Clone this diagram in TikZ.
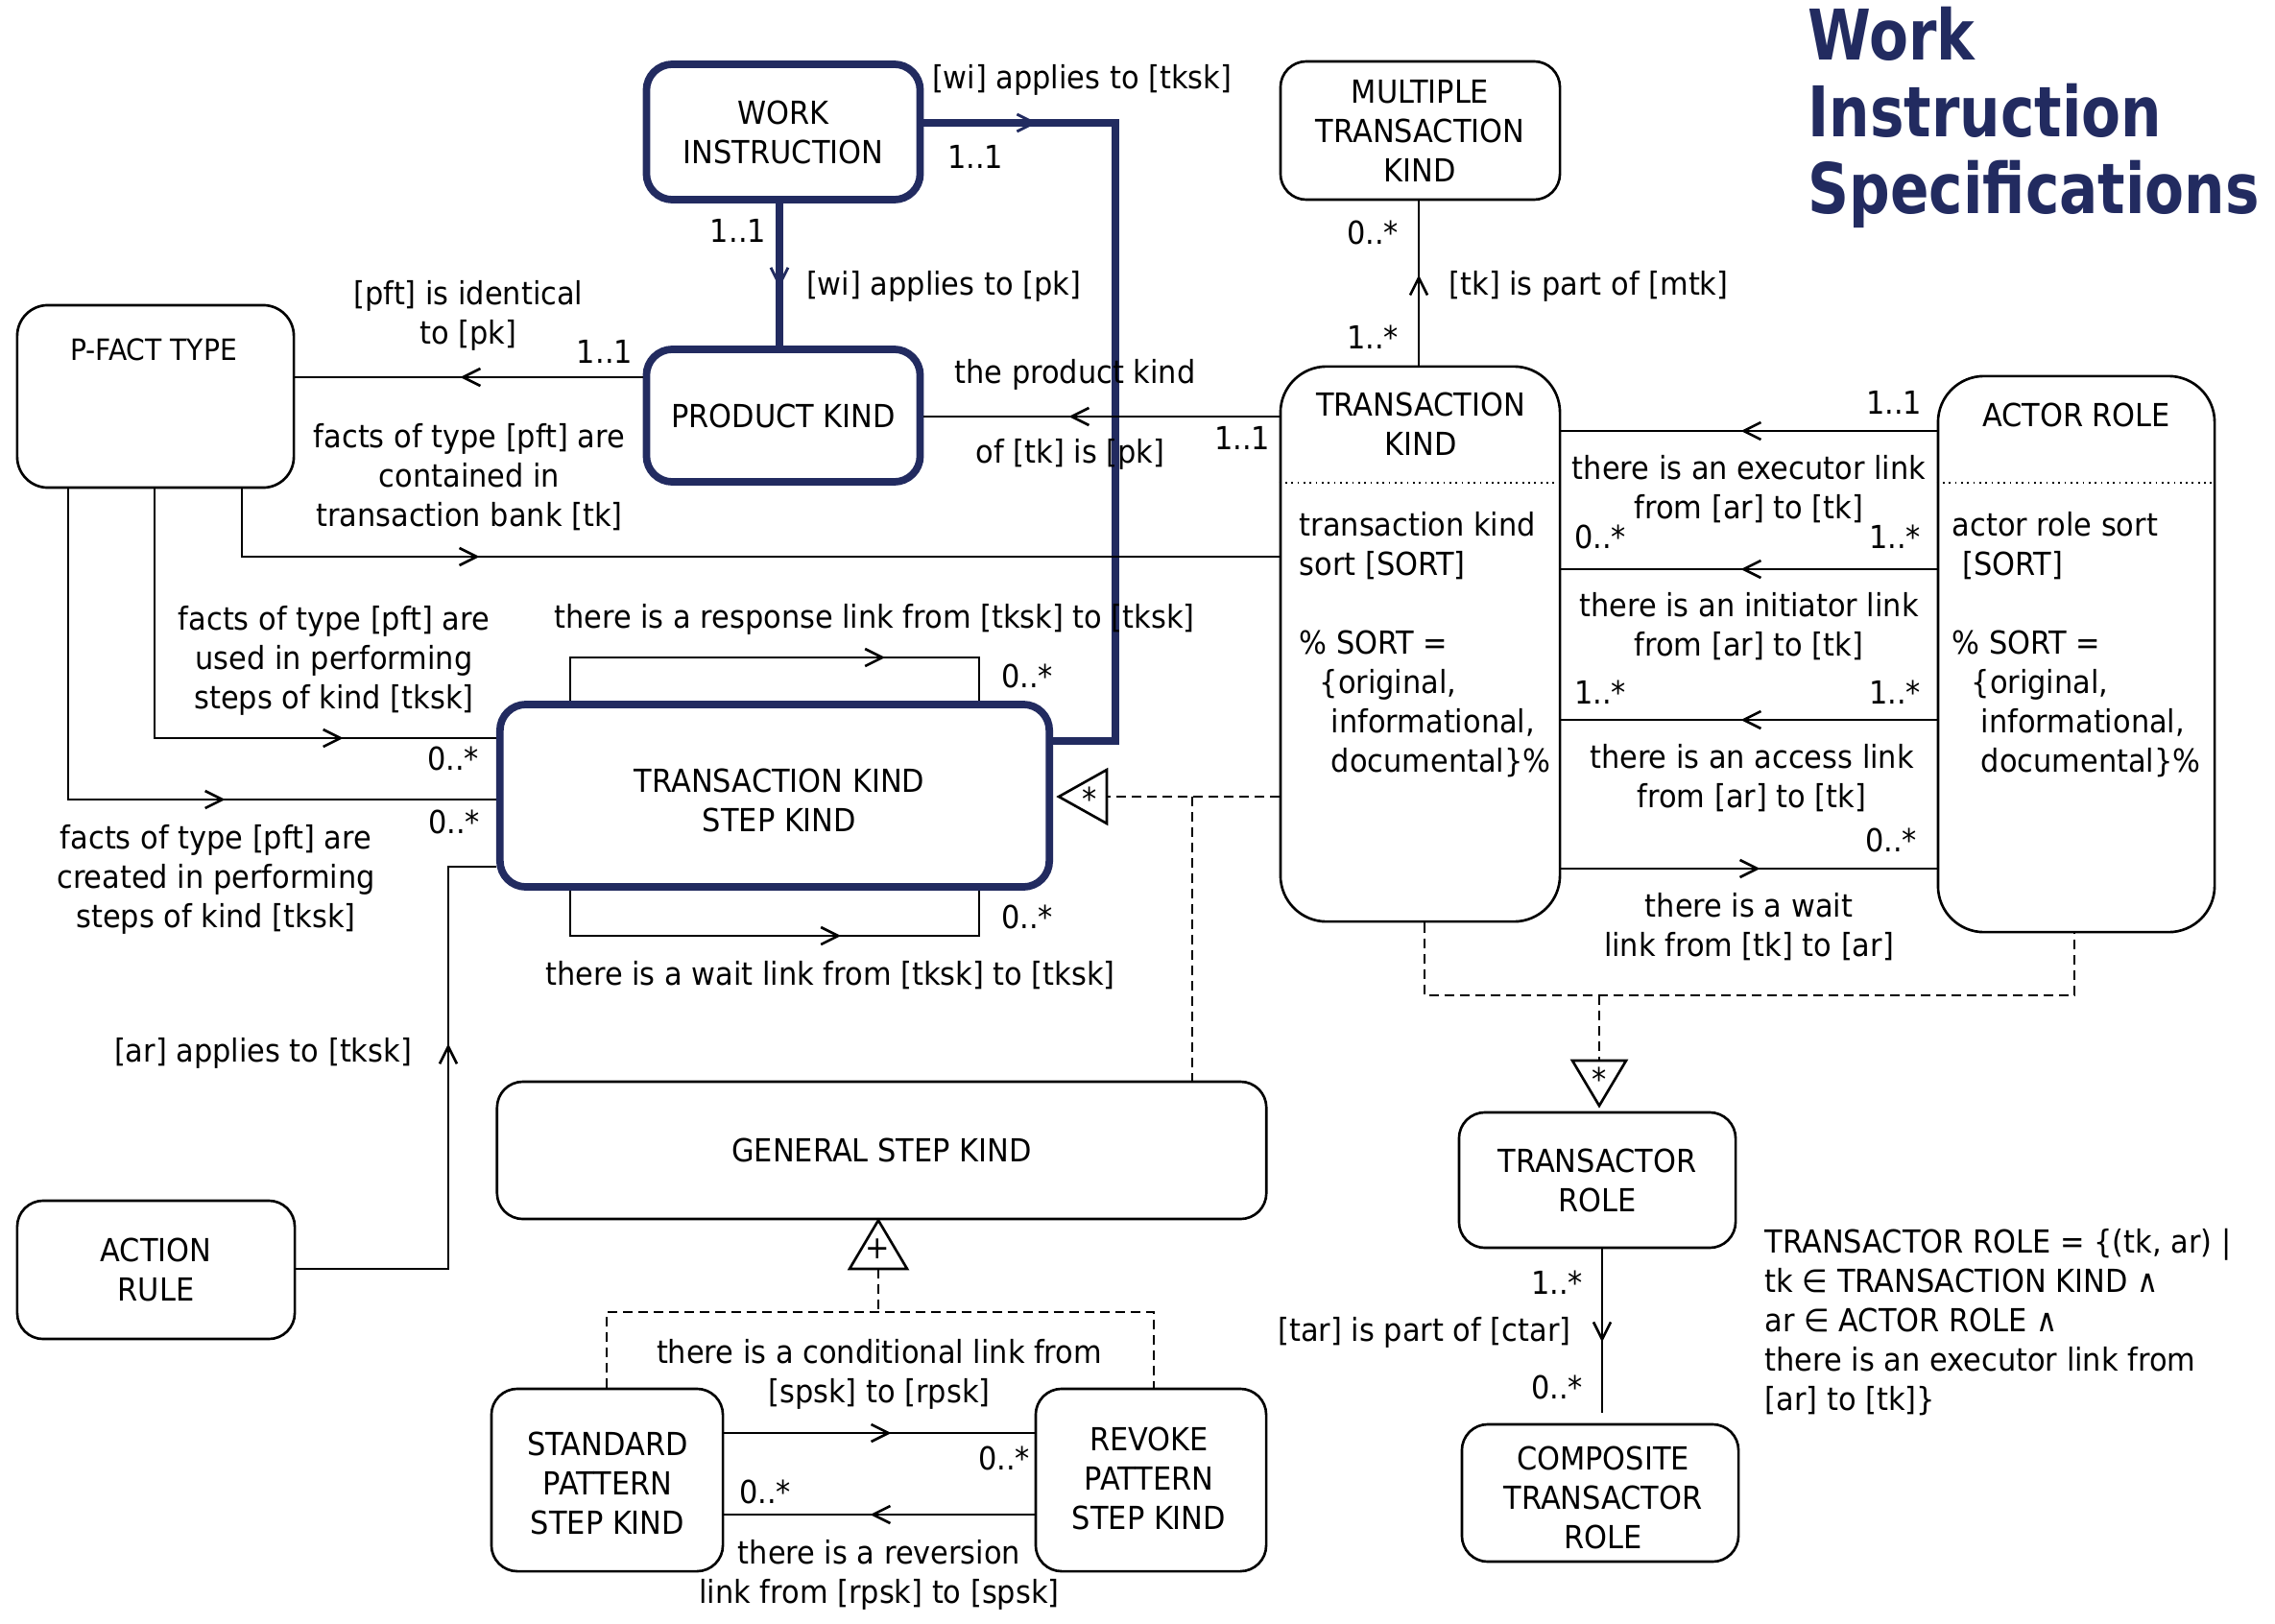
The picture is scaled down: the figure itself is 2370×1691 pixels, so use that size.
\documentclass[tikz,border=0pt]{standalone}
\usepackage{fontspec}
\setmainfont{DejaVu Sans}[FakeStretch=0.92]
\newfontfamily\titlefont{DejaVu Sans}[FakeStretch=0.82]
\usetikzlibrary{arrows.meta,decorations.markings,calc}
\definecolor{navy}{RGB}{34,43,96}
\begin{document}
\begin{tikzpicture}[x=0.01cm,y=-0.01cm,
  font=\fontsize{9.4pt}{11.66pt}\selectfont,
  line join=miter,
  box/.style={draw, line width=0.75pt, rounded corners=0.27cm, inner sep=0pt, align=center},
  tallbox/.style={box, rounded corners=0.48cm},
  navybox/.style={box, draw=navy, line width=2.2pt},
  lbl/.style={inner sep=0pt, align=center},
  conn/.style={line width=0.75pt},
  navyline/.style={draw=navy, line width=2.2pt},
  dsh/.style={line width=0.75pt, dash pattern=on 0.1cm off 0.06cm},
  dotsep/.style={line width=0.55pt, dash pattern=on 0.5pt off 1.3pt},
  midarr/.style={postaction={decorate, decoration={markings, mark=at position #1 with {\arrow{Straight Barb[length=1.8mm,width=1.8mm,line width=0.75pt]}}}}},
  navyarr/.style={postaction={decorate, decoration={markings, mark=at position #1 with {\arrow{Straight Barb[length=1.8mm,width=1.8mm,line width=0.8pt]}}}}},
  titlesty/.style={inner sep=0pt, text=navy, font=\titlefont\fontsize{20.7pt}{24pt}\selectfont\bfseries},
]
\fill[white] (0,0) rectangle (2370,1691);
\useasboundingbox (0,0) rectangle (2370,1691);

% ---- title
\node[titlesty, anchor=base west] (t1) at (1883,63) {Work};
\node[titlesty, anchor=base west] (t2) at (1883,143) {Instruction};
\node[titlesty, anchor=base west] (t3) at (1883,222) {Specifications};

% ---- boxes
\node[navybox, minimum width=2.85cm, minimum height=1.41cm] (wi) at (816,137.5) {WORK\\INSTRUCTION};
\node[navybox, minimum width=2.85cm, minimum height=1.38cm] (pk) at (816,433) {PRODUCT KIND};
\node[box, rounded corners=0.32cm, minimum width=2.88cm, minimum height=1.90cm] (pft) at (162,413) {};
\node[lbl, font=\fontsize{8.7pt}{10pt}\selectfont] (pftt) at (160,364) {P-FACT TYPE};
\node[box, minimum width=2.91cm, minimum height=1.44cm] (mtk) at (1479.5,136) {MULTIPLE\\TRANSACTION\\KIND};
\node[tallbox, minimum width=2.91cm, minimum height=5.78cm] (tk) at (1479.5,671) {};
\node[lbl] (tkt) at (1480,442) {TRANSACTION\\KIND};
\node[tallbox, minimum width=2.88cm, minimum height=5.79cm] (ar) at (2163,681.5) {};
\node[lbl] (art) at (2163,432) {ACTOR ROLE};
\node[navybox, minimum width=5.72cm, minimum height=1.90cm] (tksk) at (807,829) {};
\node[lbl] (tkskt) at (812,834) {TRANSACTION KIND\\STEP KIND};
\node[box, minimum width=8.01cm, minimum height=1.43cm] (gsk) at (918.5,1198.5) {GENERAL STEP KIND};
\node[box, minimum width=2.89cm, minimum height=1.44cm] (acr) at (162.5,1323) {ACTION\\RULE};
\node[box, minimum width=2.88cm, minimum height=1.41cm] (tr) at (1664,1229.5) {TRANSACTOR\\ROLE};
\node[box, minimum width=2.88cm, minimum height=1.43cm] (ctr) at (1667,1555.5) {};
\node[lbl] (ctrt) at (1670,1560) {COMPOSITE\\TRANSACTOR\\ROLE};
\node[box, minimum width=2.41cm, minimum height=1.90cm] (spsk) at (632.5,1542) {};
\node[lbl] (spskt) at (633,1545) {STANDARD\\PATTERN\\STEP KIND};
\node[box, minimum width=2.40cm, minimum height=1.90cm] (rpsk) at (1199,1542) {};
\node[lbl] (rpskt) at (1197,1540) {REVOKE\\PATTERN\\STEP KIND};

% ---- compartments
\draw[dotsep] (tk.west |- 0,503) -- (tk.east |- 0,503);
\draw[dotsep] (ar.west |- 0,503) -- (ar.east |- 0,503);
\node[lbl, align=left, anchor=west] (tkbody) at (1353,672) {transaction kind\\sort [SORT]\\[0.41cm]\% SORT =\\\hspace*{0.21cm}\{original,\\\hspace*{0.33cm}informational,\\\hspace*{0.33cm}documental\}\%};
\node[lbl, align=left, anchor=west] (arbody) at (2033,672) {actor role sort\\\hspace*{0.11cm}[SORT]\\[0.41cm]\% SORT =\\\hspace*{0.20cm}\{original,\\\hspace*{0.30cm}informational,\\\hspace*{0.30cm}documental\}\%};

% ---- navy connectors
\draw[navyline, navyarr=1.18cm] (wi.east |- 0,128) -- (1162,128) -- (1162,772) -- (tksk.east |- 0,772);
\draw[navyline, navyarr=0.88cm] (wi.south -| 812,0) -- (pk.north -| 812,0);

% ---- thin connectors
\draw[conn, midarr=1.90cm] (pk.west |- 0,393) -- (pft.east |- 0,393);
\draw[conn, midarr=2.19cm] (tk.west |- 0,434) -- (pk.east |- 0,434);
\draw[conn, midarr=3.18cm] (pft.south -| 252,0) -- (252,580) -- (tk.west |- 0,580);
\draw[conn, midarr=4.56cm] (pft.south -| 161,0) -- (161,769) -- (tksk.west |- 0,769);
\draw[conn, midarr=4.87cm] (pft.south -| 71,0) -- (71,833) -- (tksk.west |- 0,833);
\draw[conn, midarr=3.93cm] (acr.east |- 0,1322) -- (467,1322) -- (467,903) -- (tksk.west |- 0,903);
\draw[conn, midarr=3.73cm] (tksk.north -| 594,0) -- (594,685) -- (1020,685) -- (tksk.north -| 1020,0);
\draw[conn, midarr=3.29cm] (tksk.south -| 594,0) -- (594,975) -- (1020,975) -- (tksk.south -| 1020,0);
\draw[conn, midarr=0.94cm] (tk.north -| 1478,0) -- (mtk.south -| 1478,0);
\draw[conn, midarr=2.04cm] (ar.west |- 0,449) -- (tk.east |- 0,449);
\draw[conn, midarr=2.04cm] (ar.west |- 0,593) -- (tk.east |- 0,593);
\draw[conn, midarr=2.04cm] (ar.west |- 0,750) -- (tk.east |- 0,750);
\draw[conn, midarr=2.07cm] (tk.east |- 0,905) -- (ar.west |- 0,905);
\draw[conn, midarr=0.97cm, shorten >=0.11cm] (tr.south -| 1669,0) -- (ctr.north -| 1669,0);
\draw[conn, midarr=1.74cm] (spsk.east |- 0,1493) -- (rpsk.west |- 0,1493);
\draw[conn, midarr=1.71cm] (rpsk.west |- 0,1578) -- (spsk.east |- 0,1578);

% ---- specialisation: transaction kind step kind
\coordinate (g1) at (1153,830);
\coordinate (j1) at (1242,830);
\draw[conn] ($(g1)+(0,-28)$) -- ($(g1)+(-50,0)$) -- ($(g1)+(0,28)$) -- cycle;
\node[lbl] (g1s) at (1135,832) {*};
\draw[dsh] (tk.west |- g1) -- (g1);
\draw[dsh] (j1) -- (gsk.north -| j1);

% ---- specialisation: transactor role
\coordinate (j2) at (1666,1037);
\coordinate (g2) at (1666,1105);
\draw[dsh] (tk.south -| 1484,0) |- (j2) -| (ar.south -| 2161,0);
\draw[dsh] (j2) -- (g2);
\draw[conn] ($(g2)+(-28,0)$) -- ($(g2)+(28,0)$) -- ($(g2)+(0,47)$) -- cycle;
\node[lbl] (g2s) at (1666,1124) {*};

% ---- specialisation: general step kind
\coordinate (g3) at (915,1322);
\coordinate (j3) at (915,1367);
\draw[conn] ($(g3)+(-30,0)$) -- (gsk.south -| g3) -- ($(g3)+(30,0)$) -- cycle;
\node[lbl] (g3s) at (914,1301) {+};
\draw[dsh] (g3) -- (j3);
\draw[dsh] (spsk.north -| 632,0) |- (j3) -| (rpsk.north -| 1202,0);

% ---- labels
\node[lbl] (lwitksk) at (1127,83) {[wi] applies to [tksk]};
\node[lbl] (m1) at (1016,163) {1..1};
\node[lbl] (m2) at (769,240) {1..1};
\node[lbl] (lwipk) at (983,298) {[wi] applies to [pk]};
\node[lbl] (lpftpk) at (488,329) {[pft] is identical\\to [pk]};
\node[lbl] (m3) at (630,366) {1..1};
\node[lbl] (lcont) at (489,497) {facts of type [pft] are\\contained in\\transaction bank [tk]};
\node[lbl] (lpk1) at (1120,390) {the product kind};
\node[lbl] (lpk2) at (1115,473) {of [tk] is [pk]};
\node[lbl] (m4) at (1294,456) {1..1};
\node[lbl] (lmtk) at (1655,298) {[tk] is part of [mtk]};
\node[lbl] (m5) at (1430,242) {0..*};
\node[lbl] (m6) at (1430,351) {1..*};
\node[lbl] (m7) at (1973,419) {1..1};
\node[lbl] (lexe) at (1822,510) {there is an executor link\\from [ar] to [tk]};
\node[lbl] (m8) at (1667,559) {0..*};
\node[lbl] (m9) at (1974,559) {1..*};
\node[lbl] (lini) at (1822,653) {there is an initiator link\\from [ar] to [tk]};
\node[lbl] (m10) at (1667,721) {1..*};
\node[lbl] (m11) at (1974,721) {1..*};
\node[lbl] (lacc) at (1825,811) {there is an access link\\from [ar] to [tk]};
\node[lbl] (m12) at (1970,875) {0..*};
\node[lbl] (lwait) at (1822,966) {there is a wait\\link from [tk] to [ar]};
\node[lbl] (lused) at (348,688) {facts of type [pft] are\\used in performing\\steps of kind [tksk]};
\node[lbl] (m13) at (472,790) {0..*};
\node[lbl] (lcrea) at (225,916) {facts of type [pft] are\\created in performing\\steps of kind [tksk]};
\node[lbl] (m14) at (473,856) {0..*};
\node[lbl] (lresp) at (911,645) {there is a response link from [tksk] to [tksk]};
\node[lbl] (m15) at (1070,704) {0..*};
\node[lbl] (m16) at (1070,955) {0..*};
\node[lbl] (lwl) at (865,1016) {there is a wait link from [tksk] to [tksk]};
\node[lbl] (lar) at (274,1097) {[ar] applies to [tksk]};
\node[lbl] (lcond) at (916,1432) {there is a conditional link from\\{}[spsk] to [rpsk]};
\node[lbl] (m17) at (1046,1519) {0..*};
\node[lbl] (m18) at (797,1554) {0..*};
\node[lbl] (lrev) at (916,1641) {there is a reversion\\link from [rpsk] to [spsk]};
\node[lbl] (m19) at (1622,1336) {1..*};
\node[lbl] (m20) at (1622,1445) {0..*};
\node[lbl] (ltar) at (1484,1388) {[tar] is part of [ctar]};
\node[lbl, align=left, anchor=west] (ldef) at (1838,1378) {TRANSACTOR ROLE = \{(tk, ar) |\\tk ∈ TRANSACTION KIND ∧\\ar ∈ ACTOR ROLE ∧\\there is an executor link from\\{}[ar] to [tk]\}};
\end{tikzpicture}
\end{document}
